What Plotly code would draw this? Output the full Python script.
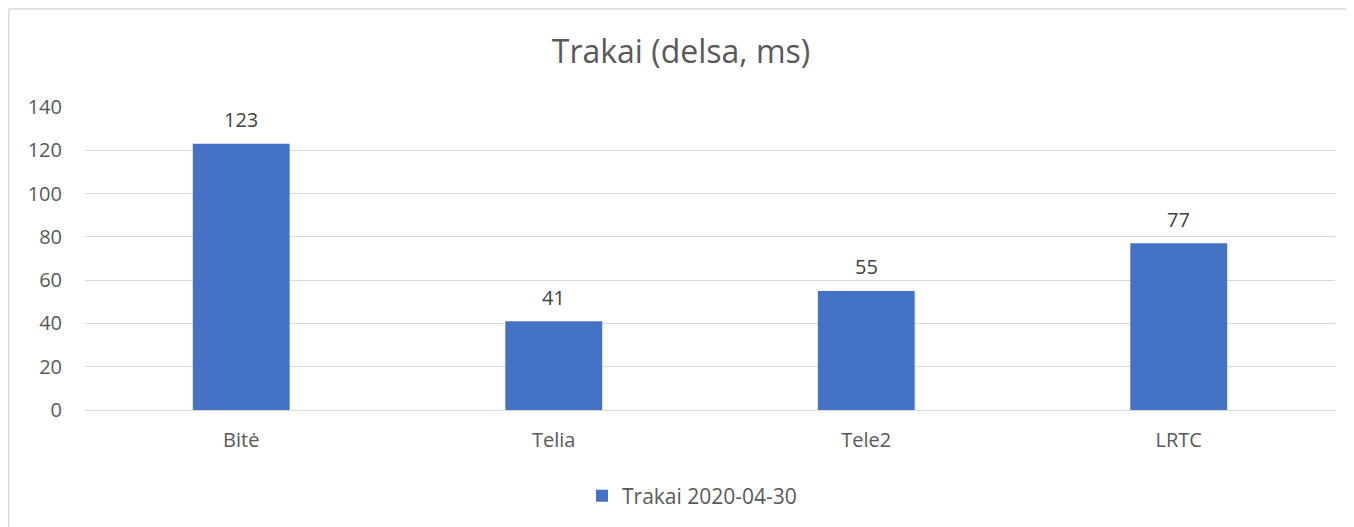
import plotly.graph_objects as go

# data
operators = ["Bitė", "Telia", "Tele2", "LRTC"]
latency_ms = [123, 41, 55, 77]
series_name = "Trakai 2020-04-30"

W, H = 1346, 519
L, R, T, B = 77, 19, 99, 116
plot_w = W - L - R
plot_h = H - T - B

fig = go.Figure()

fig.add_trace(go.Bar(
    name=series_name,
    x=operators,
    y=latency_ms,
    marker_color="#4472C4",
    marker_line=dict(width=0),
    showlegend=True,
))

# value labels above the bars
for op, v in zip(operators, latency_ms):
    fig.add_annotation(
        x=op, y=v, text=str(v),
        showarrow=False,
        yanchor="middle",
        yshift=24,
        font=dict(size=20, color="#404040", family="Open Sans"),
    )

# chart-area frame: only the top and left edges fall inside the window
x_left = (0.75 - L) / plot_w
y_top = (plot_h + T - 0.75) / plot_h
frame = dict(color="#D9D9D9", width=1.5)

fig.update_layout(
    width=W,
    height=H,
    paper_bgcolor="white",
    plot_bgcolor="white",
    margin=dict(l=L, r=R, t=T, b=B),
    bargap=0.69,
    title=dict(
        text="Trakai (delsa, ms)",
        x=0.5,
        xanchor="center",
        y=1 - 44 / H,
        yanchor="middle",
        font=dict(size=32, color="#595959", family="Open Sans"),
    ),
    font=dict(family="Open Sans", color="#595959", size=20),
    showlegend=True,
    legend=dict(
        orientation="h",
        x=0.5 - 18 / plot_w,
        xanchor="center",
        y=-85 / plot_h,
        yanchor="middle",
        font=dict(size=21, color="#595959"),
        itemwidth=30,
    ),
    shapes=[
        dict(type="line", xref="paper", yref="paper",
             x0=x_left, x1=1.5, y0=y_top, y1=y_top, line=frame, layer="below"),
        dict(type="line", xref="paper", yref="paper",
             x0=x_left, x1=x_left, y0=-1.0, y1=y_top, line=frame, layer="below"),
    ],
)

fig.update_yaxes(
    range=[0, 140],
    dtick=20,
    showgrid=True,
    gridcolor="#D9D9D9",
    gridwidth=1,
    zeroline=True,
    zerolinecolor="#D9D9D9",
    zerolinewidth=1,
    showline=False,
    ticks="",
    ticklabelstandoff=22,
    tickfont=dict(size=20, color="#595959"),
)

fig.update_xaxes(
    showgrid=False,
    showline=False,
    ticks="",
    ticklabelstandoff=16,
    tickfont=dict(size=20, color="#595959"),
)

fig.write_html("out.html")
